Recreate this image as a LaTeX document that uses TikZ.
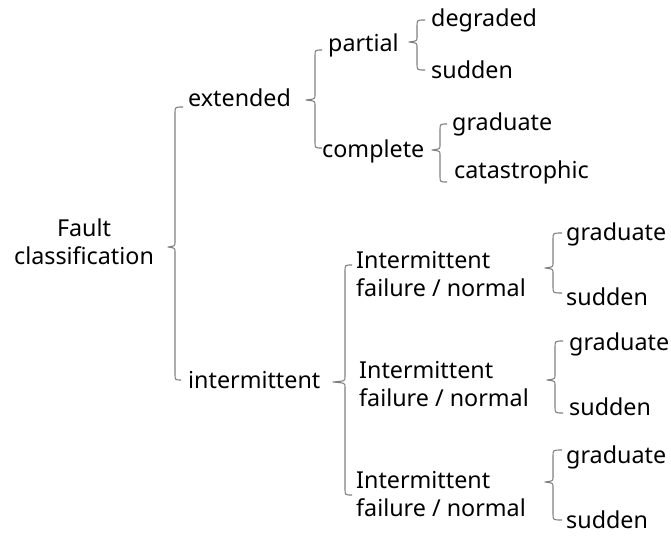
\documentclass[tikz,border=0pt]{standalone}
\usepackage{fontspec}
\setmainfont{Noto Sans}
\begin{document}
\begin{tikzpicture}[x=1pt,y=-1pt,
  lbl/.style={inner sep=0pt,anchor=base west,font=\fontsize{23.3}{28}\selectfont,text=black},
  brc/.style={draw=black!50,line width=1.1pt,line join=round}]
\useasboundingbox (0,0) rectangle (671,535);
% brace: vx, top, tipx, tipy, bottom, hook-top x, hook-bottom x
\newcommand\cbrace[7]{%
  \draw[brc] (#6,#2) .. controls (#1,#2) .. (#1,#2+6) -- (#1,#4-5)
    .. controls (#1,#4-1) .. (#3,#4) .. controls (#1,#4+1) .. (#1,#4+5)
    -- (#1,#5-6) .. controls (#1,#5) .. (#7,#5);}
% texts (multi-line nodes are placed by the baseline of their last line)
\node[lbl,align=center,anchor=base] (fc) at (84,264) {Fault\\classification};
\node[lbl] (ext) at (188,106) {extended};
\node[lbl] (int) at (188,388) {intermittent};
\node[lbl] (par) at (328,52) {partial};
\node[lbl] (com) at (322,157) {complete};
\node[lbl] (deg) at (431,27) {degraded};
\node[lbl] (sud0) at (431,78) {sudden};
\node[lbl] (gra0) at (452,130) {graduate};
\node[lbl] (cat) at (454,178) {catastrophic};
\node[lbl,align=left] (if1) at (356,296) {Intermittent\\failure / normal};
\node[lbl,align=left] (if2) at (359,406) {Intermittent\\failure / normal};
\node[lbl,align=left] (if3) at (356,516) {Intermittent\\failure / normal};
\node[lbl] (g1) at (566,240) {graduate};
\node[lbl] (s1) at (566,305) {sudden};
\node[lbl] (g2) at (569,350) {graduate};
\node[lbl] (s2) at (569,415) {sudden};
\node[lbl] (g3) at (566,463) {graduate};
\node[lbl] (s3) at (566,528) {sudden};
% braces
\cbrace{175}{107}{168}{247}{380}{183}{181}
\cbrace{315}{50}{306}{100}{148}{322}{322}
\cbrace{417}{20}{409}{42}{70}{425}{425}
\cbrace{440}{124}{432}{150}{182}{447}{447}
\cbrace{345}{265}{333}{382}{495}{352}{352}
\cbrace{553}{233}{545}{268}{293}{562}{562}
\cbrace{555}{341}{547}{380}{413}{563}{563}
\cbrace{553}{450}{545}{482}{520}{562}{562}
\end{tikzpicture}
\end{document}
